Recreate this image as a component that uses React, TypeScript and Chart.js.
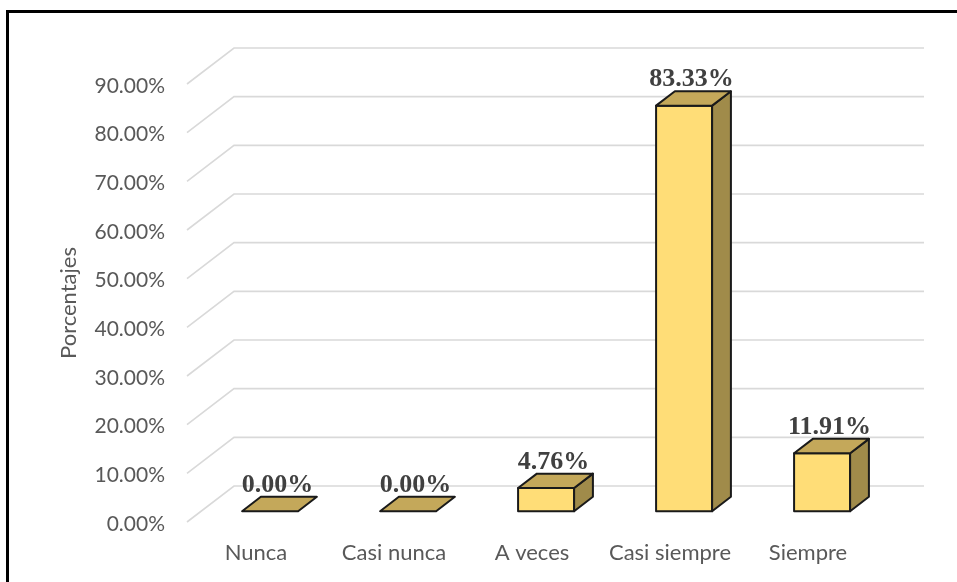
import React, { useEffect, useRef } from "react";
import { Chart, registerables } from "chart.js";

Chart.register(...registerables);

const categories = ["Nunca", "Casi nunca", "A veces", "Casi siempre", "Siempre"];
const percentages = [0, 0, 4.76, 83.33, 11.91];
const yTickValues = [0, 10, 20, 30, 40, 50, 60, 70, 80, 90];
const axisTitle = "Porcentajes";

const DEPTH = { x: 47, y: -36 };
const FRONT = 0.3;
const BACK = 0.7;

const threeD = {
  id: "threeD",
  beforeDatasetsDraw(chart: any) {
    const { ctx, chartArea, scales } = chart;
    const y = scales.y;
    ctx.save();
    ctx.strokeStyle = "#d9d9d9";
    ctx.lineWidth = 1.6;
    y.ticks.forEach((t: any) => {
      const py = y.getPixelForValue(t.value);
      ctx.beginPath();
      ctx.moveTo(chartArea.left, py);
      ctx.lineTo(chartArea.left + DEPTH.x, py + DEPTH.y);
      ctx.lineTo(chartArea.right + DEPTH.x, py + DEPTH.y);
      ctx.stroke();
    });
    ctx.restore();
  },
  afterDatasetsDraw(chart: any) {
    const { ctx } = chart;
    const meta = chart.getDatasetMeta(0);
    const data = chart.data.datasets[0].data as number[];
    const fx = FRONT * DEPTH.x;
    const fy = FRONT * DEPTH.y;
    const dx = (BACK - FRONT) * DEPTH.x;
    const dy = (BACK - FRONT) * DEPTH.y;
    ctx.save();
    ctx.lineJoin = "round";
    ctx.lineWidth = 2;
    ctx.strokeStyle = "#1a1a1a";
    meta.data.forEach((bar: any, i: number) => {
      const p = bar.getProps(["x", "y", "base", "width"], true);
      const l = p.x - p.width / 2 + fx;
      const r = p.x + p.width / 2 + fx;
      const t = p.y + fy;
      const b = p.base + fy;
      const poly = (pts: number[][], fill: string) => {
        ctx.beginPath();
        ctx.moveTo(pts[0][0], pts[0][1]);
        for (let k = 1; k < pts.length; k++) ctx.lineTo(pts[k][0], pts[k][1]);
        ctx.closePath();
        ctx.fillStyle = fill;
        ctx.fill();
        ctx.stroke();
      };
      if (b - t > 0.5) {
        poly([[l, t], [r, t], [r, b], [l, b]], "#ffdd77");
        poly([[r, t], [r + dx, t + dy], [r + dx, b + dy], [r, b]], "#a08b4a");
      }
      poly([[l, t], [r, t], [r + dx, t + dy], [l + dx, t + dy]], "#c4a85a");

      ctx.fillStyle = "#404040";
      ctx.font = "bold 26px 'Liberation Serif', 'Times New Roman', serif";
      ctx.textAlign = "center";
      ctx.textBaseline = "alphabetic";
      ctx.fillText(data[i].toFixed(2) + "%", p.x + fx + dx / 2 - 2, t + dy - 5);
    });
    ctx.restore();
  },
};

export default function App() {
  const ref = useRef<HTMLCanvasElement | null>(null);
  useEffect(() => {
    const canvas = ref.current!;
    const chart = new Chart(canvas, {
      type: "bar",
      data: {
        labels: categories,
        datasets: [
          {
            data: percentages,
            backgroundColor: "rgba(0,0,0,0)",
            borderWidth: 0,
            categoryPercentage: 1,
            barPercentage: 0.406,
          },
        ],
      },
      options: {
        responsive: false,
        animation: false,
        devicePixelRatio: 1,
        layout: { padding: { left: 0, top: 84, right: 80, bottom: 0 } },
        plugins: {
          legend: { display: false },
          tooltip: { enabled: false },
        },
        scales: {
          x: {
            grid: { display: false, drawTicks: false },
            border: { display: false },
            ticks: {
              color: "#595959",
              font: { family: "Lato", size: 22 },
              padding: 18,
              maxRotation: 0,
            },
            afterFit: (s: any) => {
              s.height = 60;
            },
          },
          y: {
            min: 0,
            max: 90,
            grid: { display: false, drawTicks: false },
            border: { display: false },
            afterBuildTicks: (s: any) => {
              s.ticks = yTickValues.map((v) => ({ value: v }));
            },
            ticks: {
              color: "#595959",
              font: { family: "Lato", size: 21 },
              padding: 22,
              labelOffset: 2,
              callback: (v: any) => Number(v).toFixed(2) + "%",
            },
            title: {
              display: true,
              text: axisTitle,
              color: "#595959",
              font: { family: "Lato", size: 22 },
              padding: { top: 56, bottom: 0 },
            },
            afterFit: (s: any) => {
              s.width = 187;
            },
          },
        },
      },
      plugins: [threeD],
    });
    return () => chart.destroy();
  }, []);

  return (
    <div
      style={{
        position: "fixed",
        left: 0,
        top: 0,
        width: 957,
        height: 582,
        background: "#ffffff",
        overflow: "hidden",
      }}
    >
      <canvas
        ref={ref}
        width={957}
        height={582}
        style={{ position: "absolute", left: 0, top: 0, width: 957, height: 582 }}
      />
      <div
        style={{
          position: "absolute",
          left: 6,
          top: 10,
          width: 1000,
          height: 1000,
          border: "3px solid #000",
          boxSizing: "border-box",
          pointerEvents: "none",
        }}
      />
    </div>
  );
}
